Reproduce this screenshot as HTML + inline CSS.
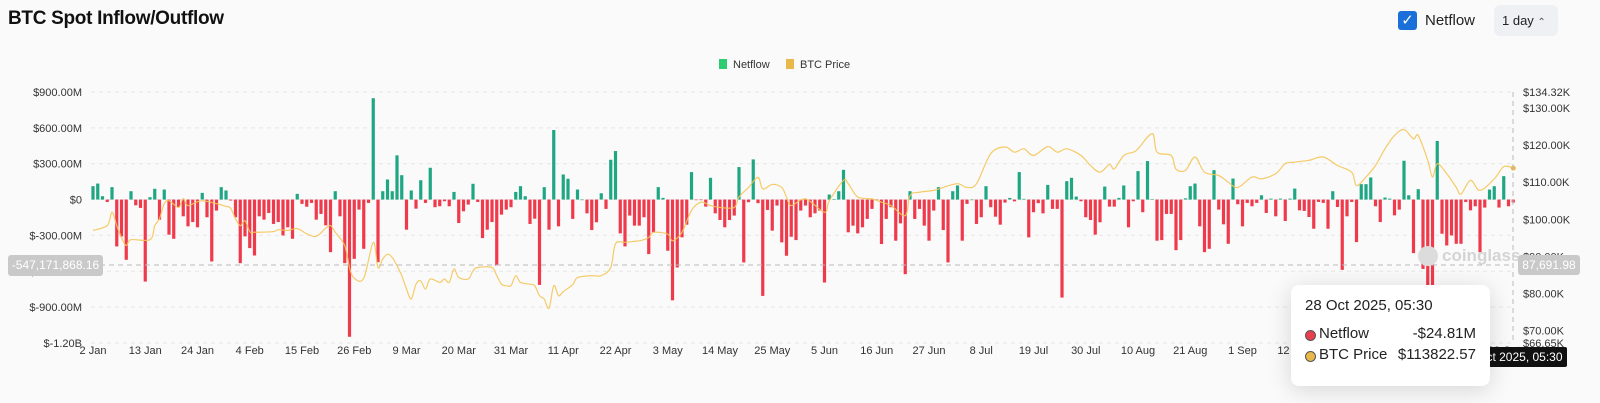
<!DOCTYPE html>
<html><head><meta charset="utf-8">
<style>
body{margin:0;background:#fafafa;font-family:"Liberation Sans",sans-serif;}
#wrap{position:relative;width:1600px;height:403px;overflow:hidden;background:#fafafa;}
.abs{position:absolute;}
</style></head>
<body>
<div id="wrap">
<div class="abs" style="left:8px;top:8px;font-size:19px;font-weight:bold;color:#111;letter-spacing:-0.3px">BTC Spot Inflow/Outflow</div>
<div class="abs" style="left:1398px;top:11px;width:19px;height:19px;background:#1a6fd8;border-radius:3px;color:#fff;font-size:15px;line-height:19px;text-align:center">✓</div>
<div class="abs" style="left:1425px;top:12px;font-size:15px;color:#222">Netflow</div>
<div class="abs" style="left:1494px;top:5px;width:64px;height:31px;background:#eef0f3;border-radius:6px;font-size:13px;line-height:31px;color:#222;padding-left:8px;box-sizing:border-box">1 day <span style="font-size:10px;color:#555">⌃</span></div>
<svg id="chart" class="abs" style="left:0;top:0" width="1600" height="403"></svg>
<div class="abs" style="left:1418px;top:246px;width:20px;height:20px;border-radius:50%;background:#dcdcdc"></div>
<div class="abs" style="left:1442px;top:246px;font-size:17px;font-weight:bold;color:#d4d4d4">coinglass</div>
<div class="abs" style="left:1456px;top:347px;width:111px;height:20px;background:#111;color:#fff;font-size:12px;line-height:20px;text-align:center;border-radius:2px">28 Oct 2025, 05:30</div>
<div class="abs" style="left:8px;top:255px;width:95px;height:21px;background:#c9c9c9;color:#fff;font-size:12px;line-height:21px;text-align:center;border-radius:3px">-547,171,868.16</div>
<div class="abs" style="left:1518px;top:255px;width:62px;height:20px;background:#c9c9c9;color:#fff;font-size:12px;line-height:20px;text-align:center;border-radius:3px">87,691.98</div>
<div class="abs" style="left:1291px;top:285px;width:199px;height:101px;background:#fff;border-radius:8px;box-shadow:0 4px 24px rgba(0,0,0,0.15);font-size:15px;color:#222">
 <div style="position:absolute;left:14px;top:12px">28 Oct 2025, 05:30</div>
 <div style="position:absolute;left:14px;top:45px;width:9px;height:9px;border-radius:50%;background:#e8404f;border:1px solid #555"></div>
 <div style="position:absolute;left:28px;top:40px">Netflow</div>
 <div style="position:absolute;right:14px;top:40px">-$24.81M</div>
 <div style="position:absolute;left:14px;top:66px;width:9px;height:9px;border-radius:50%;background:#e8b84a;border:1px solid #555"></div>
 <div style="position:absolute;left:28px;top:61px">BTC Price</div>
 <div style="position:absolute;right:14px;top:61px">$113822.57</div>
</div>
</div>
<script>
const netflow=[112,134,28,-20,104,-392,-308,-504,70,-48,-70,-686,20,90,-168,84,-294,-328,-64,-140,-224,-188,-232,56,-148,-518,-92,104,76,-8,-148,-532,-308,-406,-468,-140,-168,-112,-204,-188,-300,-232,-328,48,-36,-60,-28,-168,-120,-216,
-440,70,-140,-532,-1148,-496,-84,-412,-28,848,-524,70,168,70,370,204,-252,76,-76,162,-28,266,-64,-56,-14,-56,64,-196,-98,-42,132,-20,-322,-252,-188,-552,-126,-84,-64,64,112,28,-204,-160,-714,104,-252,582,-224,210,
174,-162,84,0,-115,-255,-190,53,-78,333,406,-283,-392,-134,-218,-218,-148,-456,-274,104,14,-428,-843,-568,-316,-210,230,-5,-5,-59,182,-115,-171,-232,-171,-134,272,-526,-22,336,-30,-806,-87,-260,-50,-358,-470,
-311,-339,-92,-50,-148,-115,-92,-694,42,5,70,249,-274,-218,-283,-232,-162,-78,-5,-372,-162,-64,-344,-199,-624,70,-162,-78,-218,-344,-92,104,-255,-526,70,118,-344,-36,0,-204,-148,112,-64,-143,-210,-25,14,-15,230,6,-316,-106,-30,-115,123,-78,-78,-820,154,182,25,-14,-148,-171,-294,-190,109,-59,-59,14,118,-232,-14,238,-106,322,5,-344,-339,-120,-120,-423,
-339,10,112,134,-224,-440,-412,246,-84,-207,-370,176,-39,-224,-28,-56,-28,36,-112,8,-140,8,-179,8,92,-90,-95,-146,-244,-20,-28,-244,70,-62,-588,-140,-20,-356,129,129,185,-56,-188,17,8,-132,-84,325,36,-448,87,-580,-720,-720,490,-286,-384,-300,-370,-370,-20,-90,-56,-440,-67,84,112,-67,196,-56,-25];
const priceDays=[0,3,4,5,6,7,8,12,13,14,15,16,18,19,20,23,28,29,30,31,32,33,34,38,39,41,43,45,47,49,50,51,53,54,55,57,59,60,61,62,63,64,65,66,67,68,69,70,71,73,74,75,76,77,79,80,81,84,85,86,87,88,89,90,92,93,94,95,96,97,98,99,101,102,105,107,109,110,112,115,117,118,121,122,124,126,128,130,132,135,136,138,140,141,143,145,146,147,150,154,155,158,159,161,164,166,168,171,172,174,177,179,182,184,186,189,192,194,196,198,201,203,205,208,210,212,214,215,217,219,220,223,224,227,228,230,232,234,237,239,241,244,246,249,251,253,256,259,262,265,266,268,270,272,274,276,278,279,281,282,283,285,287,288,290,292,295,297,299];
const priceK=[97.0,98.3,101.9,98.3,95.1,92.9,94.5,94.5,98.3,100.2,104.2,105,103.2,105.6,103.7,105,103.5,102.9,100.2,98.3,99.6,96.7,96.5,96.7,97.2,97,97.5,96.1,95.4,97.6,98.3,96.5,92.9,87.0,84.1,84.1,93.8,87,89.3,90.6,89.7,87.5,84.8,81.2,78.5,82.5,83.4,81.2,83.9,83,83.9,83,86.6,84.3,83.9,86.1,87,87,84.8,82.5,82.1,82.1,84.8,83,82.5,82.1,79.4,78.5,76,82.1,79.4,80.5,82.4,84.3,84.8,84.8,87,93.4,93.8,94.2,95.1,96.5,96,94.2,96.5,102.4,104.6,103.7,103.2,103.2,106,108.6,111.3,108.2,109.4,108.6,106,103.7,105.5,101.9,105,110.5,109.6,106,105.5,104.6,103.7,101,106.4,107.3,107.8,108.6,109.6,108.6,109.6,117.7,119.5,118.1,119,117.2,119.6,118.1,119,117.2,114.5,112.7,114.8,113.6,117.2,118.1,119,123.1,118.1,117.2,113.5,113.2,116.8,112.7,111.8,110,108.6,111.4,110.9,112.3,115,115.4,115.9,116.8,114.5,112.7,109.1,111.4,114.5,119,122.6,124.2,121.7,122.6,115.9,111.4,115,112.3,108.6,106.8,110.5,107.8,110.9,114.2,113.8];
const leftTicks=[900,600,300,0,-300,-600,-900,-1200];
const leftTickLabels=["$900.00M","$600.00M","$300.00M","$0","$-300.00M","$-600.00M","$-900.00M","$-1.20B"];
const rightTicks=[134.32,130,120,110,100,90,80,70,66.65];
const rightTickLabels=["$134.32K","$130.00K","$120.00K","$110.00K","$100.00K","$90.00K","$80.00K","$70.00K","$66.65K"];
const xTickLabels=["2 Jan","13 Jan","24 Jan","4 Feb","15 Feb","26 Feb","9 Mar","20 Mar","31 Mar","11 Apr","22 Apr","3 May","14 May","25 May","5 Jun","16 Jun","27 Jun","8 Jul","19 Jul","30 Jul","10 Aug","21 Aug","1 Sep","12 Sep","23 Sep","4 Oct","15 Oct","26 Oct"];

const NS="http://www.w3.org/2000/svg";
const svg=document.getElementById('chart');
const TOP=92,BOT=343;
const xs=d=>93+4.75*d;
const yL=v=>TOP+(900-v)/2100*(BOT-TOP);
const yR=p=>TOP+(134.32-p)/(134.32-66.65)*(BOT-TOP);
function mk(t,a){const e=document.createElementNS(NS,t);for(const k in a)e.setAttribute(k,a[k]);svg.appendChild(e);return e;}

leftTicks.forEach((v,i)=>{
  const g=mk('line',{x1:91,x2:1513,y1:yL(v),y2:yL(v),stroke:'#e6e6e6','stroke-dasharray':'4 4'});
  
  
  const t=mk('text',{x:82,y:yL(v)+4,'text-anchor':'end','font-size':11,fill:'#333'});
  t.textContent=leftTickLabels[i];
  
  
});
rightTicks.forEach((v,i)=>{
  const t=mk('text',{x:1523,y:yR(v)+4,'font-size':11,fill:'#333'});
  t.textContent=rightTickLabels[i];
  
  
});
xTickLabels.forEach((l,i)=>{
  const t=mk('text',{x:xs(i*11),y:354,'text-anchor':'middle','font-size':11,fill:'#333'});
  t.textContent=l;
  
  
});
[['#2ecc71','Netflow',719],['#e8b84a','BTC Price',786]].forEach(([c,l,x])=>{
  const r=mk('rect',{x:x,y:59,width:8,height:10,fill:c});
  
  
  const t=mk('text',{x:x+14,y:68,'font-size':11,fill:'#333'});
  t.textContent=l;
  
  
});
const y0=yL(0);
netflow.forEach((v,i)=>{
  const y=yL(v);
  const r=mk('rect',{x:xs(i)-1.6,y:Math.min(y,y0),width:3.2,height:Math.max(0.6,Math.abs(y-y0)),fill:v>=0?'#1fa683':'#ef3a4c'});
  
  
});
const pts=priceDays.map((d,i)=>[xs(d),yR(priceK[i])]);
let dstr='M'+pts[0][0]+','+pts[0][1];
for(let i=0;i<pts.length-1;i++){
  const p0=pts[Math.max(0,i-1)],p1=pts[i],p2=pts[i+1],p3=pts[Math.min(pts.length-1,i+2)];
  const c1=[p1[0]+(p2[0]-p0[0])/6,p1[1]+(p2[1]-p0[1])/6];
  const c2=[p2[0]-(p3[0]-p1[0])/6,p2[1]-(p3[1]-p1[1])/6];
  dstr+=`C${c1[0]},${c1[1]} ${c2[0]},${c2[1]} ${p2[0]},${p2[1]}`;
}
const pl=mk('path',{d:dstr,fill:'none',stroke:'#f4c558','stroke-width':1.2,opacity:0.9});


const last=pts[pts.length-1];
const dot=mk('circle',{cx:last[0],cy:last[1],r:2.5,fill:'#e8b84a'});


const ch=mk('line',{x1:91,x2:1513,y1:yL(-547.17),y2:yL(-547.17),stroke:'#bbb','stroke-dasharray':'5 4'});


const cv=mk('line',{x1:1513,x2:1513,y1:TOP,y2:BOT,stroke:'#bbb','stroke-dasharray':'5 4'});


</script>
</body></html>
